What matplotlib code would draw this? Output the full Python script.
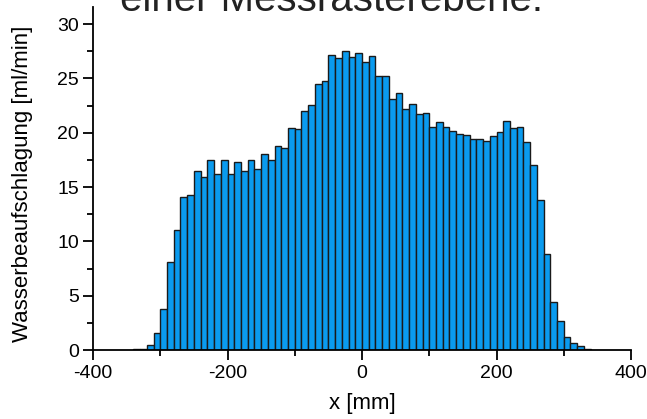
import matplotlib
matplotlib.use("Agg")
import matplotlib.pyplot as plt
from matplotlib.ticker import MultipleLocator

plt.rcParams['font.family'] = ['Liberation Sans', 'DejaVu Sans']
plt.rcParams['axes.unicode_minus'] = False

# bin centers [mm] (10 mm bins)
x_mm = [-335, -325, -315, -305, -295, -285, -275, -265, -255, -245,
        -235, -225, -215, -205, -195, -185, -175, -165, -155, -145,
        -135, -125, -115, -105, -95, -85, -75, -65, -55, -45,
        -35, -25, -15, -5, 5, 15, 25, 35, 45, 55,
        65, 75, 85, 95, 105, 115, 125, 135, 145, 155,
        165, 175, 185, 195, 205, 215, 225, 235, 245, 255,
        265, 275, 285, 295, 305, 315, 325, 335]

# water application [ml/min]
wasser = [0.05, 0.12, 0.46, 1.53, 3.74, 8.13, 11.04, 14.05, 14.26, 16.5,
          15.89, 17.45, 16.2, 17.45, 16.2, 17.35, 16.47, 17.48, 16.66, 18.0,
          17.5, 18.77, 18.56, 20.46, 20.34, 22.0, 22.55, 24.45, 24.75, 27.18,
          26.9, 27.5, 26.93, 27.3, 26.5, 27.05, 25.24, 25.24, 23.07, 23.7,
          22.15, 22.64, 21.72, 21.78, 20.52, 20.98, 20.52, 20.15, 19.88, 19.78,
          19.39, 19.45, 19.26, 19.66, 20.06, 21.04, 20.4, 20.5, 19.11, 17.02,
          13.8, 8.8, 4.4, 2.67, 1.23, 0.64, 0.37, 0.09]

title_text = "einer Messrasterebene."
x_label = "x [mm]"
y_label = "Wasserbeaufschlagung [ml/min]"
x_ticks = [-400, -200, 0, 200, 400]
y_ticks = [0, 5, 10, 15, 20, 25, 30]

fig = plt.figure(figsize=(6.47, 4.19), dpi=100)
ax = fig.add_axes([93/647, 1 - 350/419, 538/647, (350 - 6.7)/419])

ax.bar(x_mm, wasser, width=10, align='center', color='#0A9BEF',
       edgecolor='#1a1a1a', linewidth=1.0)

ax.set_xlim(-400, 400)
ax.set_ylim(0, 31.6)
ax.set_xticks(x_ticks)
ax.set_yticks(y_ticks)
ax.xaxis.set_minor_locator(MultipleLocator(100))
ax.yaxis.set_minor_locator(MultipleLocator(2.5))
ax.tick_params(which='major', direction='out', length=7, width=1.3, labelsize=14, colors='black')
ax.tick_params(which='minor', direction='out', length=4, width=1.3)
ax.tick_params(axis='y', which='major', pad=3)

for s in ['top', 'right']:
    ax.spines[s].set_visible(False)
for s in ['left', 'bottom']:
    ax.spines[s].set_linewidth(1.3)

ax.set_xlabel(x_label, fontsize=16)
ax.xaxis.set_label_coords(0.5, -0.125)
ax.set_ylabel(y_label, fontsize=16)
ax.yaxis.set_label_coords(-0.112, 0.485)

fig.text(332/647, 1 - 11/419, title_text, ha='center', va='baseline',
         fontsize=29, color='#222222')

fig.savefig("out.png", dpi=100)
